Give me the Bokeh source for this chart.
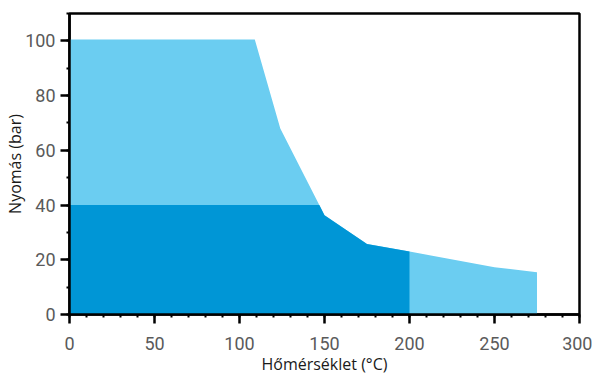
import numpy as np
from bokeh.plotting import figure
from bokeh.models import Range1d, FixedTicker
from bokeh.embed import file_html
from bokeh.resources import INLINE

# Data
temperature = [0, 109, 124, 150, 175, 200, 250, 275]          # °C
pressure = [100.5, 100.5, 68, 36.3, 25.8, 23, 17.3, 15.4]      # bar
limit_temperature = 200   # dark zone ends at this temperature
limit_pressure = 40       # dark zone capped at this pressure
x_ticks = [0, 50, 100, 150, 200, 250, 300]
y_ticks = [0, 20, 40, 60, 80, 100]

# Dark zone outline: min(limit_pressure, curve) over [0, limit_temperature]
t = np.array(temperature, dtype=float)
pr = np.array(pressure, dtype=float)
cross = float(np.interp(limit_pressure, pr[::-1], t[::-1]))
dark_x = [0.0, cross] + [v for v in temperature if cross < v <= limit_temperature]
dark_y = [float(min(limit_pressure, np.interp(v, t, pr))) for v in dark_x]

p = figure(width=592, height=377, output_backend="svg", toolbar_location=None,
           x_range=Range1d(0, 300), y_range=Range1d(0, 110),
           min_border_left=69, min_border_right=13, min_border_top=13,
           min_border_bottom=57)

p.varea(x=temperature, y1=0, y2=pressure, fill_color="#6BCDF1", fill_alpha=1)
p.varea(x=dark_x, y1=0, y2=dark_y, fill_color="#0096D6", fill_alpha=1)

p.xgrid.visible = False
p.ygrid.visible = False
p.outline_line_color = "black"
p.outline_line_width = 2.5
p.background_fill_color = "white"
p.border_fill_color = "white"

p.xaxis.ticker = FixedTicker(ticks=x_ticks, minor_ticks=list(range(0, 301, 10)))
p.yaxis.ticker = FixedTicker(ticks=y_ticks, minor_ticks=list(range(0, 111, 10)))

for ax in (p.xaxis[0], p.yaxis[0]):
    ax.axis_line_color = "black"
    ax.axis_line_width = 2.5
    ax.major_tick_line_color = "black"
    ax.major_tick_line_width = 2.5
    ax.major_tick_in = 0
    ax.major_tick_out = 9
    ax.minor_tick_line_color = "black"
    ax.minor_tick_line_width = 2
    ax.minor_tick_in = 0
    ax.minor_tick_out = 3
    ax.major_label_text_font = "Roboto"
    ax.major_label_text_font_size = "18px"
    ax.major_label_text_color = "#5a5a5a"
    ax.axis_label_text_font = "Open Sans"
    ax.axis_label_text_font_size = "16px"
    ax.axis_label_text_font_style = "normal"
    ax.axis_label_text_color = "#1a1a1a"

p.xaxis.axis_label = "Hőmérséklet (°C)"
p.yaxis.axis_label = "Nyomás (bar)"
p.xaxis.major_label_standoff = 13
p.yaxis.major_label_standoff = 5
p.xaxis.axis_label_standoff = 0
p.yaxis.axis_label_standoff = -4

open("out.html", "w").write(file_html(p, INLINE))
